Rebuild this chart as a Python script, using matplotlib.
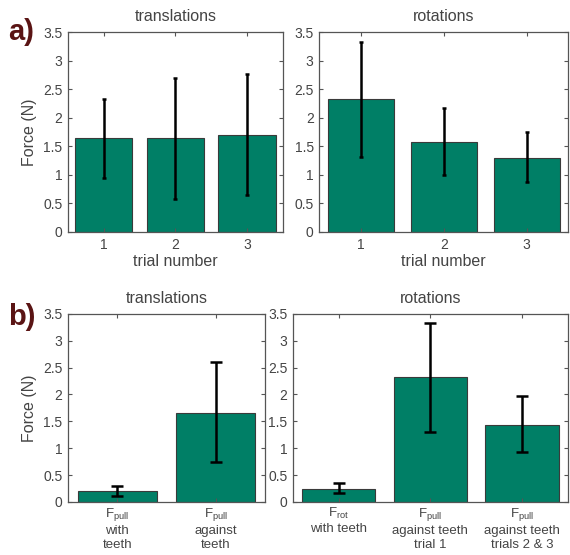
import matplotlib
matplotlib.use("Agg")
import matplotlib.pyplot as plt

plt.rcParams["font.family"] = ["Liberation Sans", "DejaVu Sans"]
plt.rcParams["mathtext.fontset"] = "custom"
plt.rcParams["mathtext.rm"] = "Liberation Sans"

GREEN = "#007f66"
TXT = "#444444"
SPINE = "#555555"

# panel a
trials = [1, 2, 3]
trans_a = [1.65, 1.65, 1.70]
trans_a_lo = [0.95, 0.58, 0.65]
trans_a_hi = [2.33, 2.70, 2.77]
rot_a = [2.33, 1.58, 1.30]
rot_a_lo = [1.32, 0.99, 0.88]
rot_a_hi = [3.32, 2.17, 1.76]

# panel b
trans_b_labels = ["$\\mathregular{F_{pull}}$\nwith\nteeth",
                  "$\\mathregular{F_{pull}}$\nagainst\nteeth"]
trans_b = [0.20, 1.65]
trans_b_lo = [0.11, 0.74]
trans_b_hi = [0.30, 2.61]
rot_b_labels = ["$\\mathregular{F_{rot}}$\nwith teeth",
                "$\\mathregular{F_{pull}}$\nagainst teeth\ntrial 1",
                "$\\mathregular{F_{pull}}$\nagainst teeth\ntrials 2 & 3"]
rot_b = [0.25, 2.33, 1.44]
rot_b_lo = [0.16, 1.31, 0.93]
rot_b_hi = [0.35, 3.33, 1.97]

yticks = [0, 0.5, 1, 1.5, 2, 2.5, 3, 3.5]
yticklabels = ["0", "0.5", "1", "1.5", "2", "2.5", "3", "3.5"]

fig = plt.figure(figsize=(5.70, 5.55), dpi=100)


def draw(ax, vals, lo, hi, labels, title, capsize, xlabel=None, ylabel=None):
    x = list(range(1, len(vals) + 1))
    ax.bar(x, vals, width=0.8, color=GREEN, edgecolor="#3a3a3a", linewidth=0.8)
    err = [[v - l for v, l in zip(vals, lo)], [h - v for v, h in zip(vals, hi)]]
    ax.errorbar(x, vals, yerr=err, fmt="none", ecolor="black", elinewidth=1.8,
                capsize=capsize, capthick=1.8)
    ax.set_xlim(0.5, len(vals) + 0.5)
    ax.set_ylim(0, 3.5)
    ax.set_yticks(yticks)
    ax.set_yticklabels(yticklabels)
    ax.set_xticks(x)
    ax.set_xticklabels(labels)
    ax.tick_params(direction="in", top=True, right=True, length=3, width=0.8,
                   colors=SPINE, labelcolor=TXT, labelsize=10, pad=4)
    for s in ax.spines.values():
        s.set_color(SPINE)
        s.set_linewidth(0.9)
    ax.set_title(title, fontsize=11.5, color=TXT, pad=8)
    if xlabel:
        ax.set_xlabel(xlabel, fontsize=11.5, color=TXT, labelpad=2)
    if ylabel:
        ax.set_ylabel(ylabel, fontsize=11.5, color=TXT, labelpad=4)


ax1 = fig.add_axes([0.119, 0.582, 0.377, 0.360])
draw(ax1, trans_a, trans_a_lo, trans_a_hi, [str(t) for t in trials], "translations",
     1.5, xlabel="trial number", ylabel="Force (N)")
ax2 = fig.add_axes([0.560, 0.582, 0.437, 0.360])
draw(ax2, rot_a, rot_a_lo, rot_a_hi, [str(t) for t in trials], "rotations",
     1.5, xlabel="trial number")
ax3 = fig.add_axes([0.119, 0.0955, 0.346, 0.339])
draw(ax3, trans_b, trans_b_lo, trans_b_hi, trans_b_labels, "translations",
     4.3, ylabel="Force (N)")
ax4 = fig.add_axes([0.514, 0.0955, 0.482, 0.339])
draw(ax4, rot_b, rot_b_lo, rot_b_hi, rot_b_labels, "rotations", 4.3)
for ax in (ax3, ax4):
    ax.tick_params(axis="x", labelsize=9.5, pad=3)

fig.text(0.015, 0.928, "a)", fontsize=21, fontweight="bold", color="#5a1414")
fig.text(0.015, 0.415, "b)", fontsize=21, fontweight="bold", color="#5a1414")

fig.savefig("out.png", dpi=100)
